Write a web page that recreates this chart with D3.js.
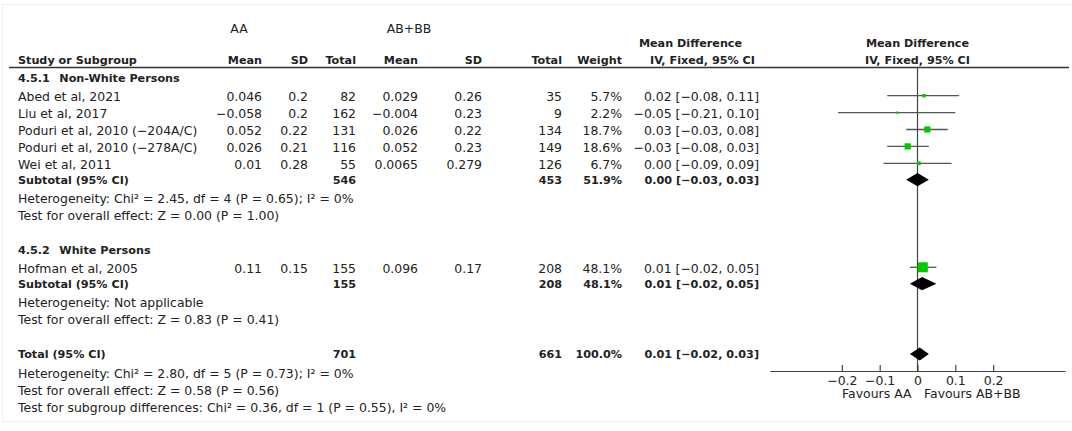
<!DOCTYPE html>
<html>
<head>
<meta charset="utf-8">
<script src="https://cdn.jsdelivr.net/npm/d3@7/dist/d3.min.js"></script>
<style>
  body { margin: 0; background: #fff; }
  text { font-family: "DejaVu Sans", sans-serif; fill: #222; }
</style>
</head>
<body>
<script>
// study rows
var studies = ['Abed et al, 2021', 'Liu et al, 2017', 'Poduri et al, 2010 (−204A/C)',
  'Poduri et al, 2010 (−278A/C)', 'Wei et al, 2011', 'Hofman et al, 2005'];
var meanAA = [0.046, -0.058, 0.052, 0.026, 0.01, 0.11];
var sdAA = [0.2, 0.2, 0.22, 0.21, 0.28, 0.15];
var totalAA = [82, 162, 131, 116, 55, 155];
var meanBB = [0.029, -0.004, 0.026, 0.052, 0.0065, 0.096];
var sdBB = [0.26, 0.23, 0.22, 0.23, 0.279, 0.17];
var totalBB = [35, 9, 134, 149, 126, 208];
var weights = [5.7, 2.2, 18.7, 18.6, 6.7, 48.1];
var md = [0.017, -0.054, 0.026, -0.026, 0.0035, 0.014];
var ciLo = [-0.08, -0.21, -0.03, -0.08, -0.09, -0.02];
var ciHi = [0.11, 0.10, 0.08, 0.03, 0.09, 0.05];

// subgroups + overall
var groupNames = ['Non-White Persons', 'White Persons'];
var groupCodes = ['4.5.1', '4.5.2'];
var subTotAA = [546, 155];
var subTotBB = [453, 208];
var subWeight = [51.9, 48.1];
var subMd = [0.0, 0.012];
var subLo = [-0.03, -0.02];
var subHi = [0.03, 0.05];
var subHet = ['Heterogeneity: Chi² = 2.45, df = 4 (P = 0.65); I² = 0%', 'Heterogeneity: Not applicable'];
var subTest = ['Test for overall effect: Z = 0.00 (P = 1.00)', 'Test for overall effect: Z = 0.83 (P = 0.41)'];

var overall = { totAA: 701, totBB: 661, weight: 100.0, md: 0.006, lo: -0.02, hi: 0.03 };
var overallNotes = ['Heterogeneity: Chi² = 2.80, df = 5 (P = 0.73); I² = 0%',
  'Test for overall effect: Z = 0.58 (P = 0.56)',
  'Test for subgroup differences: Chi² = 0.36, df = 1 (P = 0.55), I² = 0%'];

var axisTicks = [-0.2, -0.1, 0, 0.1, 0.2];

var W = 1072, H = 431;
var svg = d3.select('body').append('svg').attr('width', W).attr('height', H);

svg.append('rect')
  .attr('x', 2.5).attr('y', 4.5).attr('width', W - 2).attr('height', 417)
  .attr('fill', 'none').attr('stroke', '#efefef');

var fs = 12.45, fsb = 11.2;
var f2 = d3.format('.2f');
function num(v) { return String(v).replace('-', '−'); }
function ciText(m, lo, hi) { return f2(m) + ' [' + f2(lo) + ', ' + f2(hi) + ']'; }

// column right edges
var col = { meanA: 262, sdA: 308, totA: 356, meanB: 418, sdB: 482, totB: 562, wt: 622, ci: 759 };
var xLeft = 18;

function txt(x, y, s, opt) {
  opt = opt || {};
  return svg.append('text')
    .attr('x', x).attr('y', y + 4.4)
    .attr('text-anchor', opt.anchor || 'start')
    .attr('font-weight', opt.bold ? 'bold' : null)
    .style('font-size', (opt.bold ? fsb : fs) + 'px')
    .text(s);
}

// forest scale
var x = d3.scaleLinear().domain([-0.39, 0.39]).range([770, 1065]);
var side = d3.scaleSqrt().domain([0, 48.1]).range([0, 10]);
var axisY = 371, headLineY = 67.5;

// headers
txt(239, 29, 'AA', { anchor: 'middle' });
txt(409, 29, 'AB+BB', { anchor: 'middle' });
txt(690.5, 42.3, 'Mean Difference', { anchor: 'middle', bold: true });
txt(702.5, 60, 'IV, Fixed, 95% CI', { anchor: 'middle', bold: true });
txt(x(0), 42.3, 'Mean Difference', { anchor: 'middle', bold: true });
txt(x(0), 60, 'IV, Fixed, 95% CI', { anchor: 'middle', bold: true });
txt(xLeft, 60, 'Study or Subgroup', { bold: true });
[['Mean', col.meanA], ['SD', col.sdA], ['Total', col.totA], ['Mean', col.meanB],
 ['SD', col.sdB], ['Total', col.totB], ['Weight', col.wt]].forEach(function (h) {
  txt(h[1], 60, h[0], { anchor: 'end', bold: true });
});

svg.append('line')
  .attr('x1', 9).attr('x2', 1069).attr('y1', headLineY).attr('y2', headLineY)
  .attr('stroke', '#333').attr('stroke-width', 1.4);

// zero line
svg.append('line')
  .attr('x1', x(0)).attr('x2', x(0)).attr('y1', headLineY).attr('y2', axisY)
  .attr('stroke', '#444').attr('stroke-width', 1.2);

function diamond(m, lo, hi, y) {
  var h = 6.6;
  svg.append('path')
    .attr('d', 'M' + x(lo) + ',' + y + 'L' + x(m) + ',' + (y - h) + 'L' + x(hi) + ',' + y +
      'L' + x(m) + ',' + (y + h) + 'Z')
    .attr('fill', '#000');
}

// rows layout
var groupRows = [[0, 1, 2, 3, 4], [5]];
var groupHeadY = [77.7, 249.3];
var rowStep = 16.9;

groupRows.forEach(function (rows, g) {
  var gy = groupHeadY[g];
  txt(xLeft, gy, groupCodes[g], { bold: true });
  txt(59.3, gy, groupNames[g], { bold: true });
  var y = gy + 19;
  rows.forEach(function (i) {
    txt(xLeft, y, studies[i]);
    txt(col.meanA, y, num(meanAA[i]), { anchor: 'end' });
    txt(col.sdA, y, num(sdAA[i]), { anchor: 'end' });
    txt(col.totA, y, totalAA[i], { anchor: 'end' });
    txt(col.meanB, y, num(meanBB[i]), { anchor: 'end' });
    txt(col.sdB, y, num(sdBB[i]), { anchor: 'end' });
    txt(col.totB, y, totalBB[i], { anchor: 'end' });
    txt(col.wt, y, weights[i].toFixed(1) + '%', { anchor: 'end' });
    txt(col.ci, y, ciText(md[i], ciLo[i], ciHi[i]), { anchor: 'end' });

    var my = y - 1;
    svg.append('line')
      .attr('x1', x(ciLo[i])).attr('x2', x(ciHi[i])).attr('y1', my).attr('y2', my)
      .attr('stroke', '#555').attr('stroke-width', 1.3);
    var s = side(weights[i]);
    svg.append('rect')
      .attr('x', x(md[i]) - s / 2).attr('y', my - s / 2)
      .attr('width', s).attr('height', s)
      .attr('fill', '#00c800');
    y += rowStep;
  });
  var sy = y - 1.5;
  txt(xLeft, sy, 'Subtotal (95% CI)', { bold: true });
  txt(col.totA, sy, subTotAA[g], { anchor: 'end', bold: true });
  txt(col.totB, sy, subTotBB[g], { anchor: 'end', bold: true });
  txt(col.wt, sy, subWeight[g].toFixed(1) + '%', { anchor: 'end', bold: true });
  txt(col.ci, sy, ciText(subMd[g], subLo[g], subHi[g]), { anchor: 'end', bold: true });
  diamond(subMd[g], subLo[g], subHi[g], sy);
  txt(xLeft, sy + 19, subHet[g]);
  txt(xLeft, sy + 36, subTest[g]);
});

// overall
var ty = 353.3;
txt(xLeft, ty, 'Total (95% CI)', { bold: true });
txt(col.totA, ty, overall.totAA, { anchor: 'end', bold: true });
txt(col.totB, ty, overall.totBB, { anchor: 'end', bold: true });
txt(col.wt, ty, overall.weight.toFixed(1) + '%', { anchor: 'end', bold: true });
txt(col.ci, ty, ciText(overall.md, overall.lo, overall.hi), { anchor: 'end', bold: true });
diamond(overall.md, overall.lo, overall.hi, ty + 0.7);
overallNotes.forEach(function (s, k) { txt(xLeft, 373.3 + k * 17, s); });

// axis
var axis = d3.axisBottom(x)
  .tickValues(axisTicks)
  .tickSizeInner(-6).tickSizeOuter(0).tickPadding(5)
  .tickFormat(function (d) { return d === 0 ? '0' : d3.format('.1f')(d); });
var ag = svg.append('g').attr('transform', 'translate(0,' + axisY + ')').call(axis);
ag.select('.domain').attr('stroke', '#444').attr('stroke-width', 1.2);
ag.selectAll('.tick line').attr('stroke', '#444').attr('stroke-width', 1.2);
ag.selectAll('.tick text')
  .style('font-size', fs + 'px').style('font-family', '"DejaVu Sans", sans-serif').attr('fill', '#222');

txt(x(0) - 6, 393.3, 'Favours AA', { anchor: 'end' });
txt(x(0) + 6.5, 393.3, 'Favours AB+BB');
</script>
</body>
</html>
